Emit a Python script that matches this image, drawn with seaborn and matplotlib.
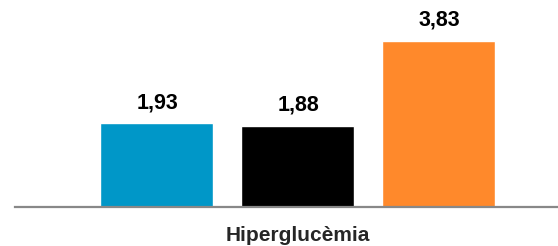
import matplotlib
matplotlib.use("Agg")
import matplotlib.pyplot as plt
import seaborn as sns
import pandas as pd

# Data
categories = ["Hiperglucèmia", "Hiperglucèmia", "Hiperglucèmia"]
series = ["Sèrie 1", "Sèrie 2", "Sèrie 3"]
values = [1.93, 1.88, 3.83]
value_labels = ["1,93", "1,88", "3,83"]
colors = ["#0097C8", "#000000", "#FF892B"]

df = pd.DataFrame({"cat": categories, "serie": series, "val": values})

sns.set_style("white")
plt.rcParams["font.family"] = ["Liberation Sans", "DejaVu Sans"]

fig = plt.figure(figsize=(5.58, 2.46), dpi=100)
ax = fig.add_axes([15 / 558, 39 / 246, 543 / 558, 207 / 246])

sns.barplot(data=df, x="cat", y="val", hue="serie", palette=colors,
            width=0.8, gap=0.2, legend=False, ax=ax, saturation=1)

for patch, lab in zip(ax.patches, value_labels):
    x = patch.get_x() + patch.get_width() / 2
    y = patch.get_height()
    ax.annotate(lab, (x, y), xytext=(0.5, 7.5), textcoords="offset points",
                ha="center", va="bottom", fontsize=15.5, fontweight="bold",
                color="#000000")

ax.set_xlim(-0.534, 0.4925)
ax.set_ylim(0, 207 / 43.3)
ax.set_xlabel("")
ax.set_ylabel("")
ax.set_yticks([])
ax.tick_params(axis="x", length=0, pad=14, labelsize=15)
for lbl in ax.get_xticklabels():
    lbl.set_fontweight("bold")
for s in ["top", "right", "left"]:
    ax.spines[s].set_visible(False)
ax.spines["bottom"].set_color("#888888")
ax.spines["bottom"].set_linewidth(1.6)

fig.savefig("out.png", dpi=100)
